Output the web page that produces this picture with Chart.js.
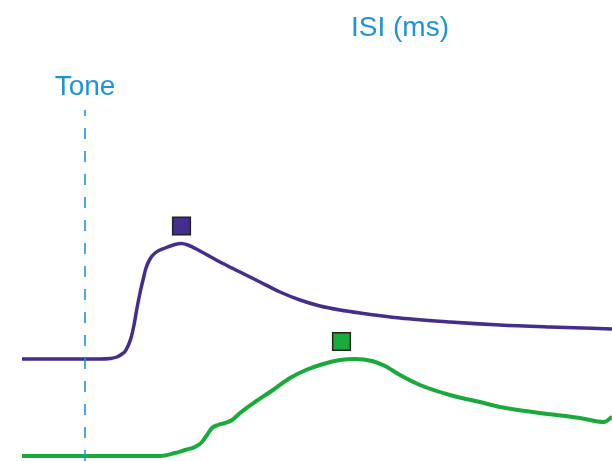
<!DOCTYPE html>
<html>
<head>
<meta charset="utf-8">
<script src="https://cdn.jsdelivr.net/npm/chart.js@4/dist/chart.umd.min.js"></script>
<style>
  html, body { margin: 0; padding: 0; background: #fff; }
  #wrap { width: 612px; height: 461px; position: relative; }
</style>
</head>
<body>
<div id="wrap"><canvas id="c"></canvas></div>
<script>
// Time relative to tone onset (ms) and response amplitude (arbitrary units)
const shortTime = [-126, -50, 30, 50, 64, 74, 80, 86, 92, 98, 104, 110, 116, 122, 130, 140, 160, 180, 192, 206, 230, 270, 310, 350, 390, 430, 470, 510, 550, 630, 730, 830, 930, 1054];
const shortAmp  = [1.02, 1.02, 1.02, 1.025, 1.04, 1.07, 1.095, 1.15, 1.23, 1.36, 1.53, 1.68, 1.81, 1.93, 2.02, 2.08, 2.13, 2.165, 2.175, 2.16, 2.10, 1.99, 1.89, 1.79, 1.69, 1.61, 1.55, 1.51, 1.48, 1.43, 1.39, 1.36, 1.34, 1.32];

const longTime = [-126, 30, 150, 180, 200, 220, 234, 244, 254, 266, 280, 294, 310, 340, 370, 410, 442, 470, 510, 540, 574, 600, 630, 670, 730, 790, 830, 910, 990, 1038, 1054];
const longAmp  = [0.05, 0.05, 0.05, 0.08, 0.11, 0.14, 0.19, 0.26, 0.33, 0.36, 0.38, 0.41, 0.48, 0.59, 0.69, 0.83, 0.91, 0.96, 1.01, 1.02, 1.00, 0.95, 0.86, 0.76, 0.66, 0.59, 0.54, 0.48, 0.43, 0.39, 0.44];

// Peak markers (time, amplitude)
const peakTime = [193, 513];
const peakAmp  = [2.35, 1.195];

// Tone onset marker
const toneTime = [0, 0];
const toneAmp  = [0, 3.51];

const PURPLE = '#452d8c';
const GREEN = '#1aaa3c';
const BLUE = '#1f93da';

const pts = (xs, ys) => xs.map((x, i) => ({ x, y: ys[i] }));

// Text labels placed in data coordinates
const labels = [
  { text: 'ISI (ms)', x: 630, y: 4.25 },
  { text: 'Tone', x: 0, y: 3.66 }
];
const labelPlugin = {
  id: 'labels',
  afterDatasetsDraw(chart) {
    const { ctx, scales } = chart;
    ctx.save();
    ctx.font = '28px "Liberation Sans", Arial, sans-serif';
    ctx.fillStyle = BLUE;
    ctx.textAlign = 'center';
    ctx.textBaseline = 'alphabetic';
    labels.forEach(l => {
      ctx.fillText(l.text, scales.x.getPixelForValue(l.x), scales.y.getPixelForValue(l.y));
    });
    ctx.restore();
  }
};

new Chart(document.getElementById('c'), {
  type: 'scatter',
  data: {
    datasets: [
      {
        data: pts(toneTime, toneAmp),
        showLine: true,
        borderColor: BLUE,
        borderWidth: 1.6,
        borderDash: [11, 12],
        pointRadius: 0
      },
      {
        data: pts(shortTime, shortAmp),
        showLine: true,
        borderColor: PURPLE,
        borderWidth: 3.5,
        cubicInterpolationMode: 'monotone',
        pointRadius: 0
      },
      {
        data: pts(longTime, longAmp),
        showLine: true,
        borderColor: GREEN,
        borderWidth: 4,
        cubicInterpolationMode: 'monotone',
        pointRadius: 0
      },
      {
        data: pts(peakTime, peakAmp),
        showLine: false,
        pointStyle: 'rect',
        pointRadius: 12.5,
        pointBackgroundColor: [PURPLE, GREEN],
        pointBorderColor: '#222',
        pointBorderWidth: 1.5
      }
    ]
  },
  options: {
    responsive: true,
    maintainAspectRatio: false,
    animation: false,
    layout: { padding: 0, autoPadding: false },
    clip: false,
    plugins: {
      legend: { display: false },
      tooltip: { enabled: false }
    },
    scales: {
      x: { type: 'linear', min: -170, max: 1054, display: false },
      y: { type: 'linear', min: 0, max: 4.61, display: false }
    }
  },
  plugins: [labelPlugin]
});
</script>
</body>
</html>
